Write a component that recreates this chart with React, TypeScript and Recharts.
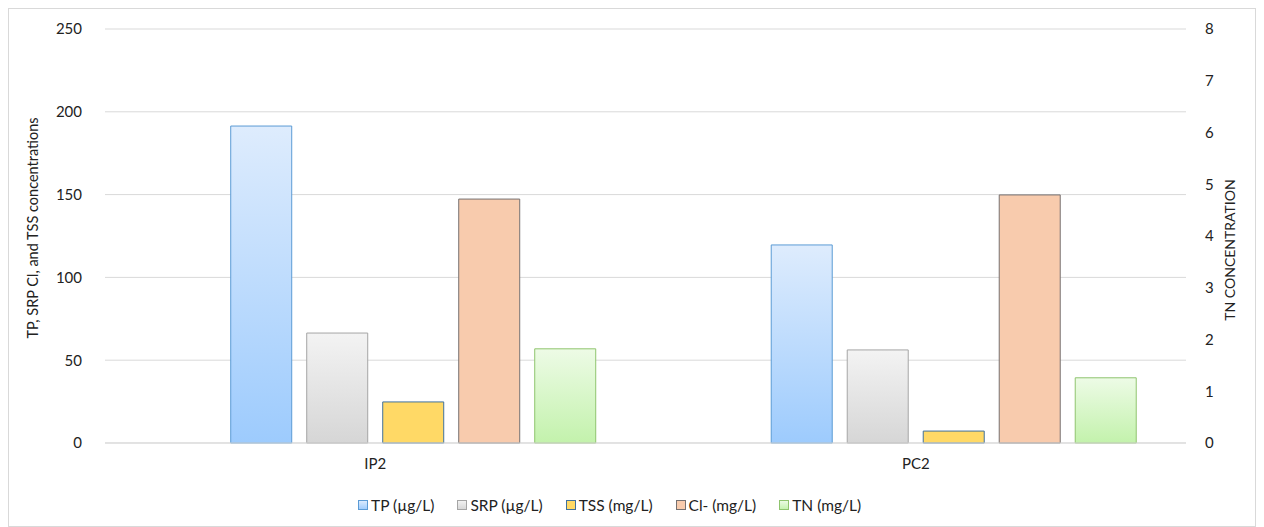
import React from "react";
import { BarChart, Bar, XAxis, YAxis, CartesianGrid, Legend } from "recharts";

const sites = ["IP2", "PC2"];
const tp = [191.4, 119.6];
const srp = [66.4, 56.2];
const tss = [24.8, 7.2];
const cl = [147.3, 149.8];
const tn = [1.82, 1.26];

const leftTicks = [0, 50, 100, 150, 200, 250];
const rightTicks = [0, 1, 2, 3, 4, 5, 6, 7, 8];

const data = sites.map((s, i) => ({ site: s, tp: tp[i], srp: srp[i], tss: tss[i], cl: cl[i], tn: tn[i] }));

const series = [
  { key: "tp", name: "TP (µg/L)", fill: "url(#gTP)", stroke: "#5b9bd5", axis: "left" },
  { key: "srp", name: "SRP (µg/L)", fill: "url(#gSRP)", stroke: "#a5a5a5", axis: "left" },
  { key: "tss", name: "TSS (mg/L)", fill: "#ffd966", stroke: "#41719c", axis: "left" },
  { key: "cl", name: "Cl- (mg/L)", fill: "#f8cbad", stroke: "#767171", axis: "left" },
  { key: "tn", name: "TN (mg/L)", fill: "url(#gTN)", stroke: "#8fc46e", axis: "right" },
];

const font = "Lato, 'Open Sans', sans-serif";
const txt = "#222";

function LegendBox() {
  return (
    <div style={{ display: "flex", height: 30, alignItems: "center", gap: 23, fontFamily: font, fontSize: 15.5, color: txt }}>
      {series.map((s) => (
        <div key={s.key} style={{ display: "flex", alignItems: "center" }}>
          <svg width={10} height={10} style={{ marginRight: 3 }}>
            <rect x={0.5} y={0.5} width={9} height={9} fill={s.fill} stroke={s.stroke} />
          </svg>
          <span>{s.name}</span>
        </div>
      ))}
    </div>
  );
}

export default function App() {
  return (
    <div style={{ width: 1248, height: 519, border: "1px solid #d9d9d9", boxSizing: "border-box", background: "#fff" }}>
      <BarChart
        width={1246}
        height={517}
        data={data}
        margin={{ top: 20, right: 19, left: 36, bottom: 23 }}
        barCategoryGap="9.2%"
        barGap={15}
      >
        <defs>
          <linearGradient id="gTP" x1="0" y1="0" x2="0" y2="1">
            <stop offset="0%" stopColor="#deecfd" />
            <stop offset="100%" stopColor="#9dcbfd" />
          </linearGradient>
          <linearGradient id="gSRP" x1="0" y1="0" x2="0" y2="1">
            <stop offset="0%" stopColor="#f3f3f3" />
            <stop offset="100%" stopColor="#d6d6d6" />
          </linearGradient>
          <linearGradient id="gTN" x1="0" y1="0" x2="0" y2="1">
            <stop offset="0%" stopColor="#edfbe6" />
            <stop offset="100%" stopColor="#c3f2ac" />
          </linearGradient>
        </defs>
        <CartesianGrid vertical={false} stroke="#d9d9d9" yAxisId="left" />
        <XAxis
          dataKey="site"
          height={30}
          tickLine={false}
          tickMargin={9}
          axisLine={{ stroke: "#d9d9d9" }}
          tick={{ fontSize: 15, fill: txt, fontFamily: font }}
        />
        <YAxis
          yAxisId="left"
          width={60}
          domain={[0, 250]}
          ticks={leftTicks}
          axisLine={false}
          tickLine={false}
          tickMargin={17}
          tick={{ fontSize: 15, fill: txt, fontFamily: font }}
          label={{
            value: "TP, SRP Cl, and TSS concentrations",
            angle: -90,
            position: "insideLeft",
            offset: 0,
            dx: -12,
            dy: -8,
            style: { textAnchor: "middle", fontSize: 14.5, fill: txt, fontFamily: font },
          }}
        />
        <YAxis
          yAxisId="right"
          orientation="right"
          width={50}
          domain={[0, 8]}
          ticks={rightTicks}
          axisLine={false}
          tickLine={false}
          tickMargin={13}
          tick={{ fontSize: 15, fill: txt, fontFamily: font }}
          label={{
            value: "TN CONCENTRATION",
            angle: -90,
            position: "insideRight",
            offset: 0,
            dx: -6,
            dy: 14,
            style: { textAnchor: "middle", fontSize: 14, fill: txt, fontFamily: font },
          }}
        />
        <Legend verticalAlign="bottom" content={<LegendBox />} wrapperStyle={{ bottom: 6, left: 349, width: "auto" }} />
        {/* empty slot so the four primary bars sit centred on the category, TN to their right */}
        <Bar dataKey="blank" yAxisId="left" legendType="none" isAnimationActive={false} />
        {series.map((s) => (
          <Bar
            key={s.key}
            dataKey={s.key}
            name={s.name}
            yAxisId={s.axis}
            fill={s.fill}
            stroke={s.stroke}
            strokeWidth={1}
            isAnimationActive={false}
          />
        ))}
      </BarChart>
    </div>
  );
}
